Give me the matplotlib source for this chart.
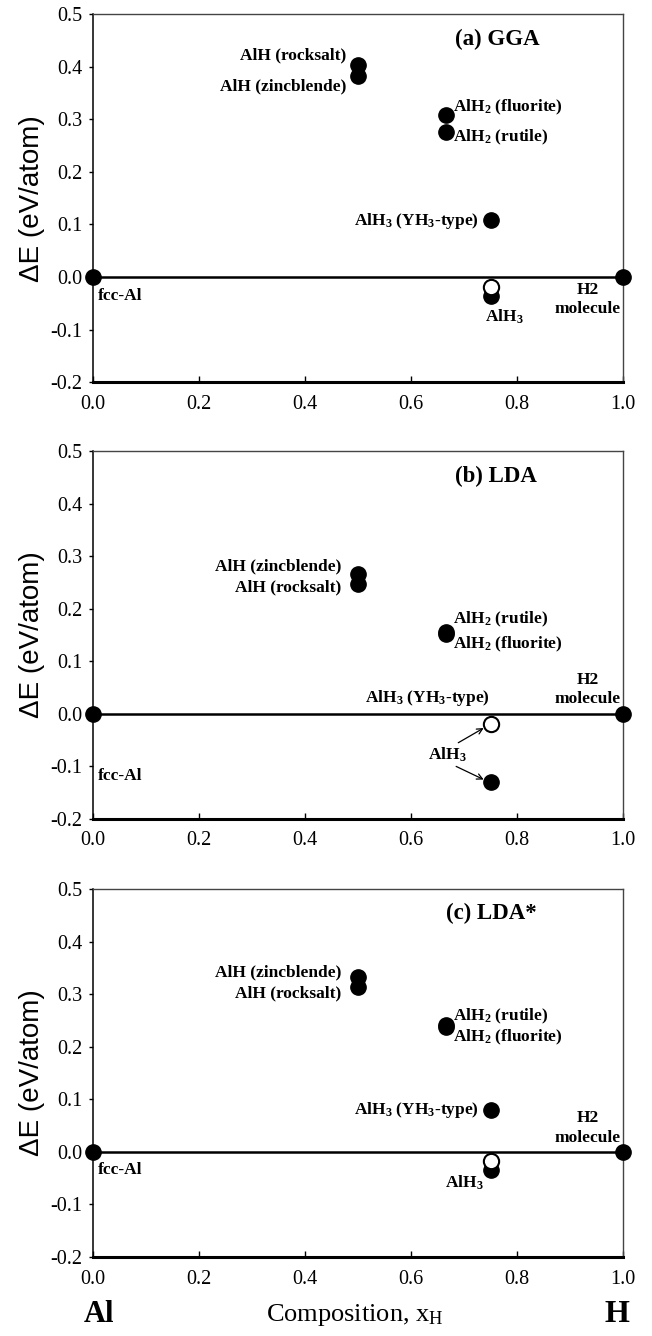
import matplotlib
matplotlib.use("Agg")
import matplotlib.pyplot as plt

plt.rcParams['font.family'] = ['Liberation Serif', 'DejaVu Serif']
plt.rcParams['mathtext.fontset'] = 'custom'
plt.rcParams['mathtext.default'] = 'regular'

# composition x_H
x_end = [0.0, 1.0]
x_alh = [0.5, 0.5]
x_alh2 = [2 / 3, 2 / 3]
x_alh3 = 0.75

# (a) GGA
gga_alh = [0.404, 0.383]        # rocksalt, zincblende
gga_alh2 = [0.308, 0.276]       # fluorite, rutile
gga_yh3 = 0.109
gga_alh3 = [-0.019, -0.036]     # open, filled

# (b) LDA
lda_alh = [0.267, 0.247]        # zincblende, rocksalt
lda_alh2 = [0.156, 0.152]       # rutile, fluorite
lda_alh3 = [-0.020, -0.130]     # open (YH3-type), filled

# (c) LDA*
ldas_alh = [0.332, 0.313]       # zincblende, rocksalt
ldas_alh2 = [0.241, 0.238]      # rutile, fluorite
ldas_yh3 = 0.080
ldas_alh3 = [-0.017, -0.034]    # open, filled

xticks = [0.0, 0.2, 0.4, 0.6, 0.8, 1.0]
yticks = [-0.2, -0.1, 0.0, 0.1, 0.2, 0.3, 0.4, 0.5]

fig = plt.figure(figsize=(6.52, 13.36), dpi=100)
L, W, H = 93.3 / 652, 529.7 / 652, 0.2754
boxes = [[L, 0.714, W, H],
         [L, 0.387, W, H],
         [L, 0.0591, W, H]]
axs = [fig.add_axes(b) for b in boxes]

MS = 11
lab = dict(fontsize=12.5, fontweight='bold')
serif = 'Liberation Serif'


def base(ax, title, tx, ty):
    ax.set_xlim(0, 1)
    ax.set_ylim(-0.2, 0.5)
    ax.set_xticks(xticks)
    ax.set_yticks(yticks)
    ax.set_xticklabels(['%.1f' % v for v in xticks], fontfamily=serif)
    ax.set_yticklabels(['%.1f' % v for v in yticks], fontfamily=serif)
    ax.tick_params(axis='x', direction='in', length=4, width=1, labelsize=14.5, pad=9)
    ax.tick_params(axis='y', direction='out', length=3, width=1, labelsize=14.5, pad=5)
    ax.spines['bottom'].set_linewidth(2.2)
    ax.spines['left'].set_linewidth(1.1)
    for s in ['top', 'right']:
        ax.spines[s].set_linewidth(1.0)
        ax.spines[s].set_color('#444444')
    ax.axhline(0, color='black', lw=1.8, zorder=2)
    ax.plot(x_end, [0, 0], 'o', color='black', ms=MS, zorder=3, clip_on=False)
    ax.set_ylabel('ΔE (eV/atom)', family=['Liberation Sans', 'DejaVu Sans'],
                  fontsize=20, labelpad=4)
    ax.text(tx, ty, title, fontsize=16.5, fontweight='bold', ha='center', va='center')


# ---- (a) GGA
ax = axs[0]
base(ax, '(a) GGA', 0.763, 0.452)
ax.plot(x_alh, gga_alh, 'o', color='black', ms=MS, zorder=3)
ax.plot(x_alh2, gga_alh2, 'o', color='black', ms=MS, zorder=3)
ax.plot([x_alh3], [gga_yh3], 'o', color='black', ms=MS, zorder=3)
ax.plot([x_alh3], [gga_alh3[1]], 'o', color='black', ms=MS, zorder=3)
ax.plot([x_alh3], [gga_alh3[0]], 'o', mfc='white', mec='black', mew=1.5, ms=MS, zorder=4)
ax.text(0.477, 0.422, 'AlH (rocksalt)', ha='right', va='center', **lab)
ax.text(0.477, 0.363, 'AlH (zincblende)', ha='right', va='center', **lab)
ax.text(0.680, 0.322, 'AlH$_2$ (fluorite)', ha='left', va='center', **lab)
ax.text(0.680, 0.265, 'AlH$_2$ (rutile)', ha='left', va='center', **lab)
ax.text(0.728, 0.107, 'AlH$_3$ (YH$_3$-type)', ha='right', va='center', **lab)
ax.text(0.008, -0.036, 'fcc-Al', ha='left', va='center', **lab)
ax.text(0.776, -0.075, 'AlH$_3$', ha='center', va='center', **lab)
ax.text(0.933, -0.043, 'H2\nmolecule', ha='center', va='center', linespacing=1.3, **lab)

# ---- (b) LDA
ax = axs[1]
base(ax, '(b) LDA', 0.76, 0.451)
ax.plot(x_alh, lda_alh, 'o', color='black', ms=MS, zorder=3)
ax.plot(x_alh2, lda_alh2, 'o', color='black', ms=MS, zorder=3)
ax.plot([x_alh3], [lda_alh3[1]], 'o', color='black', ms=MS, zorder=3)
ax.plot([x_alh3], [lda_alh3[0]], 'o', mfc='white', mec='black', mew=1.5, ms=MS, zorder=4)
ax.text(0.469, 0.281, 'AlH (zincblende)', ha='right', va='center', **lab)
ax.text(0.469, 0.240, 'AlH (rocksalt)', ha='right', va='center', **lab)
ax.text(0.680, 0.179, 'AlH$_2$ (rutile)', ha='left', va='center', **lab)
ax.text(0.680, 0.132, 'AlH$_2$ (fluorite)', ha='left', va='center', **lab)
ax.text(0.63, 0.031, 'AlH$_3$ (YH$_3$-type)', ha='center', va='center', **lab)
ax.text(0.933, 0.046, 'H2\nmolecule', ha='center', va='center', linespacing=1.3, **lab)
ax.text(0.008, -0.119, 'fcc-Al', ha='left', va='center', **lab)
ax.text(0.669, -0.078, 'AlH$_3$', ha='center', va='center', **lab)
arr = dict(arrowstyle='->', color='black', lw=0.9, shrinkA=0, shrinkB=0)
ax.annotate('', xy=(0.737, -0.027), xytext=(0.689, -0.055), arrowprops=arr)
ax.annotate('', xy=(0.737, -0.125), xytext=(0.685, -0.100), arrowprops=arr)

# ---- (c) LDA*
ax = axs[2]
base(ax, '(c) LDA*', 0.752, 0.453)
ax.plot(x_alh, ldas_alh, 'o', color='black', ms=MS, zorder=3)
ax.plot(x_alh2, ldas_alh2, 'o', color='black', ms=MS, zorder=3)
ax.plot([x_alh3], [ldas_yh3], 'o', color='black', ms=MS, zorder=3)
ax.plot([x_alh3], [ldas_alh3[1]], 'o', color='black', ms=MS, zorder=3)
ax.plot([x_alh3], [ldas_alh3[0]], 'o', mfc='white', mec='black', mew=1.5, ms=MS, zorder=4)
ax.text(0.469, 0.341, 'AlH (zincblende)', ha='right', va='center', **lab)
ax.text(0.469, 0.301, 'AlH (rocksalt)', ha='right', va='center', **lab)
ax.text(0.680, 0.257, 'AlH$_2$ (rutile)', ha='left', va='center', **lab)
ax.text(0.680, 0.217, 'AlH$_2$ (fluorite)', ha='left', va='center', **lab)
ax.text(0.728, 0.080, 'AlH$_3$ (YH$_3$-type)', ha='right', va='center', **lab)
ax.text(0.933, 0.045, 'H2\nmolecule', ha='center', va='center', linespacing=1.3, **lab)
ax.text(0.008, -0.035, 'fcc-Al', ha='left', va='center', **lab)
ax.text(0.70, -0.059, 'AlH$_3$', ha='center', va='center', **lab)

# bottom labels
yb = 1 - 1315 / 1336
fig.text(99 / 652, yb, 'Al', fontsize=22, fontweight='bold', ha='center', va='center')
fig.text(355 / 652, yb, 'Composition, x$_H$', fontsize=19, ha='center', va='center')
fig.text(617 / 652, yb, 'H', fontsize=23, fontweight='bold', ha='center', va='center')

fig.savefig('out.png', dpi=100)
